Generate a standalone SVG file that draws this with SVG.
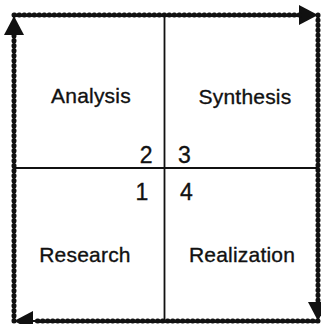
<svg xmlns="http://www.w3.org/2000/svg" width="321" height="324" viewBox="0 0 321 324">
  <defs>
    <style>
      .lbl { font-family: "Liberation Sans", Arial, Helvetica, sans-serif; font-size: 21px; fill: #111; stroke: #111; stroke-width: 0.35px; letter-spacing: 0.2px; }
      .num { font-family: "Liberation Sans", Arial, Helvetica, sans-serif; font-size: 23px; fill: #111; stroke: #111; stroke-width: 0.35px; }
      .grid { stroke: #111; stroke-width: 1.8; fill: none; }
      .edge-core { stroke: #111; stroke-width: 2.2; fill: none; }
      .edge-bead { stroke: #111; stroke-width: 5; fill: none; stroke-dasharray: 0.6 4.4; stroke-linecap: round; }
    </style>
    <marker id="arrow" viewBox="0 0 19 20" refX="19" refY="10" markerWidth="19" markerHeight="20" markerUnits="userSpaceOnUse" orient="auto">
      <path d="M0,0 L19,10 L0,20 Z" fill="#111"/>
    </marker>
  </defs>
  <rect width="321" height="324" fill="#fff"/>

  <g id="grid">
    <line class="grid" x1="164.5" y1="15" x2="164.5" y2="321"/>
    <line class="grid" x1="14" y1="168" x2="318" y2="168"/>
  </g>

  <g id="connectors">
    <path class="edge-bead" d="M14,321 L14,34"/>
    <path class="edge-core" d="M14,15 L318,15" marker-end="url(#arrow)"/>
    <path class="edge-bead" d="M14,15 L300,15"/>
    <path class="edge-core" d="M318,15 L318,321" marker-end="url(#arrow)"/>
    <path class="edge-bead" d="M318,15 L318,302"/>
    <path class="edge-core" d="M318,321 L14,321" marker-end="url(#arrow)"/>
    <path class="edge-bead" d="M318,321 L33,321"/>
    <path class="edge-core" d="M14,321 L14,16" marker-end="url(#arrow)"/>
  </g>

  <g id="analysis">
    <text class="lbl" x="91" y="103" text-anchor="middle">Analysis</text>
    <text class="num" x="152.5" y="163" text-anchor="end">2</text>
  </g>
  <g id="synthesis">
    <text class="lbl" x="245" y="104" text-anchor="middle">Synthesis</text>
    <text class="num" x="178" y="163">3</text>
  </g>
  <g id="research">
    <text class="lbl" x="85" y="262" text-anchor="middle">Research</text>
    <text class="num" x="135.5" y="200">1</text>
  </g>
  <g id="realization">
    <text class="lbl" x="242" y="262" text-anchor="middle">Realization</text>
    <text class="num" x="180" y="200">4</text>
  </g>
</svg>
